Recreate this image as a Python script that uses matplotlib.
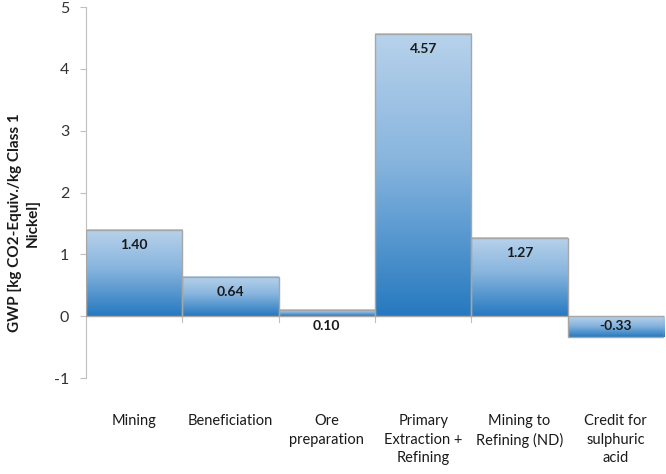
import numpy as np
import matplotlib
matplotlib.use("Agg")
import matplotlib.pyplot as plt
from matplotlib.colors import LinearSegmentedColormap

# ==============================
# Data
# ==============================
categories = ["Mining", "Beneficiation", "Ore\npreparation",
              "Primary\nExtraction +\nRefining", "Mining to\nRefining (ND)",
              "Credit for\nsulphuric\nacid"]
values = [1.40, 0.64, 0.10, 4.57, 1.27, -0.33]
labels = ["1.40", "0.64", "0.10", "4.57", "1.27", "-0.33"]
yticks = [-1, 0, 1, 2, 3, 4, 5]

plt.rcParams["font.family"] = ["Lato", "DejaVu Sans"]

fig = plt.figure(figsize=(6.66, 4.74), dpi=100)
ax = fig.add_axes([86 / 666, 1 - 378 / 474, 578 / 666, 371 / 474])

# gradient: light on top, darker blue at the bottom
cmap = LinearSegmentedColormap.from_list(
    "bar", [(0.0, "#b8d2eb"), (0.45, "#88b5de"), (1.0, "#2679c0")])
grad = np.linspace(0, 1, 256).reshape(-1, 1)

x = np.arange(len(values))
for xi, v in zip(x, values):
    top, bot = max(v, 0), min(v, 0)
    ax.imshow(grad, cmap=cmap, aspect="auto", origin="upper",
              extent=[xi - 0.5, xi + 0.5, bot, top], zorder=2)
ax.bar(x, values, width=1.0, facecolor="none", edgecolor="#a6a6a6",
       linewidth=1.0, zorder=3)

# small ticks on the zero line between categories
for b in x[1:] - 0.5:
    ax.plot([b, b], [0, -0.1], color="#bfbfbf", lw=0.8, zorder=1)

# value labels
for xi, v, lab in zip(x, values, labels):
    if v >= 0.3:
        ax.annotate(lab, (xi, v), xytext=(0, -11), textcoords="offset points",
                    ha="center", va="center", fontsize=10, fontweight="bold",
                    color="#1a1a1a", zorder=4)
    elif v >= 0:
        ax.annotate(lab, (xi, 0), xytext=(0, -7), textcoords="offset points",
                    ha="center", va="center", fontsize=10, fontweight="bold",
                    color="#1a1a1a", zorder=4)
    else:
        ax.annotate(lab, (xi, v / 2), ha="center", va="center", fontsize=10,
                    fontweight="bold", color="#1a1a1a", zorder=4)

ax.set_xlim(-0.5, len(values) - 0.5)
ax.set_ylim(-1, 5)
ax.set_yticks(yticks)
ax.set_yticklabels([str(t) for t in yticks], fontsize=11.5, color="#333333")
ax.set_xticks(x)
ax.set_xticklabels(categories, fontsize=10.5, color="#1a1a1a", linespacing=1.4)
ax.tick_params(axis="x", length=0, pad=26)
ax.tick_params(axis="y", length=4, color="#bfbfbf", pad=8)

for s in ["top", "right", "bottom"]:
    ax.spines[s].set_visible(False)
ax.spines["left"].set_color("#bfbfbf")

fig.text(24 / 666, 1 - 223 / 474, "GWP [kg CO2-Equiv./kg Class 1\nNickel]",
         rotation=90, ha="center", va="center", fontsize=11,
         fontweight="bold", color="#1a1a1a", multialignment="center",
         linespacing=1.3)

fig.savefig("out.png", dpi=100)
